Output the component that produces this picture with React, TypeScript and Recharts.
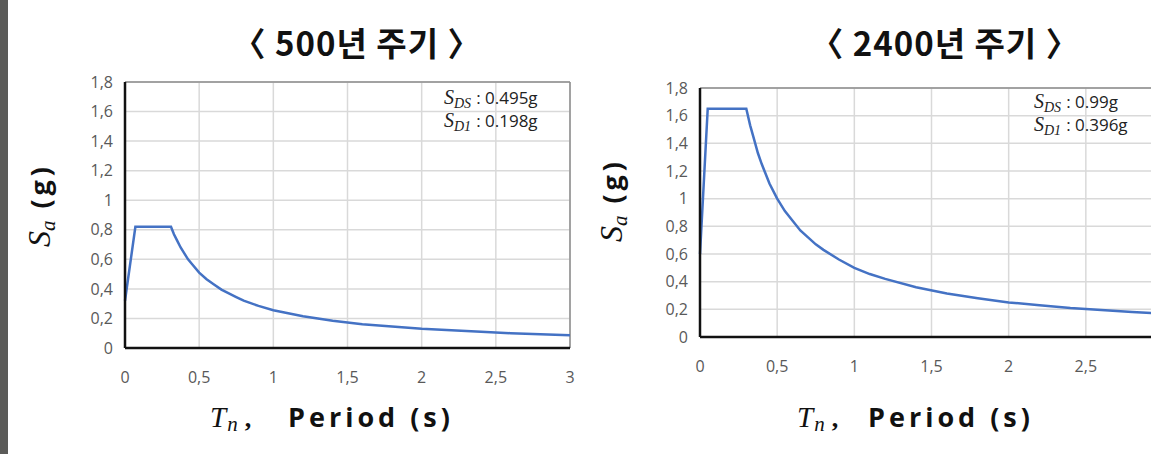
import { CartesianGrid, Line, LineChart, ReferenceLine, XAxis, YAxis } from 'recharts'

// Design response spectra (T in s, Sa in g)
const periodsLeft = [0, 0.07, 0.31, 0.33, 0.35, 0.375, 0.4, 0.425, 0.45, 0.5, 0.55, 0.6, 0.65, 0.7, 0.75, 0.8, 0.9, 1.0, 1.1, 1.2, 1.4, 1.6, 1.8, 2.0, 2.2, 2.4, 2.6, 2.8, 3.0]
const saLeft = [0.32, 0.82, 0.82, 0.77, 0.73, 0.68, 0.64, 0.6, 0.57, 0.51, 0.465, 0.43, 0.395, 0.37, 0.345, 0.32, 0.285, 0.255, 0.235, 0.215, 0.185, 0.16, 0.145, 0.13, 0.12, 0.11, 0.1, 0.093, 0.086]

const periodsRight = [0, 0.05, 0.3, 0.325, 0.35, 0.375, 0.4, 0.425, 0.45, 0.5, 0.55, 0.6, 0.65, 0.7, 0.75, 0.8, 0.9, 1.0, 1.1, 1.2, 1.4, 1.6, 1.8, 2.0, 2.2, 2.4, 2.6, 2.8, 3.0]
const saRight = [0.6, 1.65, 1.65, 1.53, 1.43, 1.33, 1.25, 1.18, 1.11, 1.0, 0.91, 0.84, 0.77, 0.72, 0.67, 0.63, 0.56, 0.5, 0.455, 0.42, 0.36, 0.315, 0.28, 0.25, 0.23, 0.21, 0.195, 0.18, 0.168]

const xTicks = [0, 0.5, 1, 1.5, 2, 2.5, 3]
const xTicksCut = [0, 0.5, 1, 1.5, 2, 2.5] // right panel: "3" falls outside the picture
const yTicks = [0, 0.2, 0.4, 0.6, 0.8, 1, 1.2, 1.4, 1.6, 1.8]

const titles = ['〈 500년 주기 〉', '〈 2400년 주기 〉']
const sdsValues = ['0.495g', '0.99g']
const sd1Values = ['0.198g', '0.396g']

const fmt = (v: number) => String(Math.round(v * 10) / 10).replace('.', ',')

const blue = '#4472c4'
const tickStyle = { fill: '#595959', fontSize: 16, fontFamily: 'Open Sans' }

type PanelProps = {
  left: number
  width: number
  periods: number[]
  sa: number[]
  ticks: number[]
  margin: { top: number; right: number; bottom: number; left: number }
  title: string
  sds: string
  sd1: string
  // overlay text positions, relative to the panel
  titleX: number
  yLabelX: number
  yLabelY: number
  tX: number
  periodX: number
  noteX: number
  noteY: number
}

function Panel(p: PanelProps) {
  const data = p.periods.map((t, i) => ({ t, sa: p.sa[i] }))
  const serif = 'Liberation Serif'
  return (
    <div style={{ position: 'absolute', left: p.left, top: 0, width: p.width, height: 454 }}>
      <LineChart width={p.width} height={454} data={data} margin={p.margin}>
        <CartesianGrid stroke="#d9d9d9" strokeWidth={1.5} />
        <XAxis
          type="number"
          dataKey="t"
          domain={[0, 3]}
          ticks={p.ticks}
          interval={0}
          tickFormatter={fmt}
          tick={tickStyle}
          tickLine={false}
          tickSize={0}
          tickMargin={24}
          height={30}
          axisLine={{ stroke: '#111', strokeWidth: 2.5 }}
        />
        <YAxis
          type="number"
          domain={[0, 1.8]}
          ticks={yTicks}
          interval={0}
          tickFormatter={fmt}
          tick={tickStyle}
          tickLine={false}
          tickSize={0}
          tickMargin={12}
          width={40}
          axisLine={{ stroke: '#111', strokeWidth: 2.5 }}
        />
        <ReferenceLine y={1.8} stroke="#8c8c8c" strokeWidth={1.5} />
        <ReferenceLine x={3} stroke="#8c8c8c" strokeWidth={1.5} />
        <Line
          type="linear"
          dataKey="sa"
          stroke={blue}
          strokeWidth={2.5}
          dot={false}
          isAnimationActive={false}
        />
      </LineChart>
      <svg
        width={p.width}
        height={454}
        style={{ position: 'absolute', left: 0, top: 0, pointerEvents: 'none' }}
      >
        <text
          x={p.titleX}
          y={56}
          textAnchor="middle"
          fontFamily="Noto Sans CJK KR"
          fontWeight={700}
          fontSize={33}
          letterSpacing={1}
          fill="#111"
        >
          {p.title}
        </text>
        <text
          transform={`translate(${p.yLabelX},${p.yLabelY}) rotate(-90)`}
          textAnchor="middle"
          fill="#111"
        >
          <tspan fontFamily={serif} fontStyle="italic" fontSize={32}>S</tspan>
          <tspan fontFamily={serif} fontStyle="italic" fontSize={21} dy={5}>a</tspan>
          <tspan fontFamily="Open Sans" fontWeight={700} fontSize={27} dy={-5} dx={12} letterSpacing={4}>(g)</tspan>
        </text>
        <text x={p.tX} y={427} fill="#111">
          <tspan fontFamily={serif} fontStyle="italic" fontSize={29}>T</tspan>
          <tspan fontFamily={serif} fontStyle="italic" fontSize={21} dy={4} dx={1}>n</tspan>
          <tspan fontFamily={serif} fontWeight={700} fontSize={26} dy={-4} dx={7}>,</tspan>
        </text>
        <text
          x={p.periodX}
          y={427}
          fontFamily="Open Sans"
          fontWeight={700}
          fontSize={27}
          letterSpacing={4}
          fill="#111"
        >
          Period (s)
        </text>
        {[
          ['DS', p.sds],
          ['D1', p.sd1],
        ].map(([sub, val], i) => (
          <text key={sub} x={p.noteX} y={p.noteY + i * 23} fill="#222">
            <tspan fontFamily={serif} fontStyle="italic" fontSize={20}>S</tspan>
            <tspan fontFamily={serif} fontStyle="italic" fontSize={14} dy={4}>{sub}</tspan>
            <tspan fontFamily="Open Sans" fontSize={17} dy={-4} dx={5}>{`:\u00a0${val}`}</tspan>
          </text>
        ))}
      </svg>
    </div>
  )
}

export default function App() {
  return (
    <div
      style={{
        position: 'absolute',
        left: 0,
        top: 0,
        width: 1151,
        height: 454,
        overflow: 'hidden',
        background: '#fff',
      }}
    >
      <div style={{ position: 'absolute', left: 0, top: 0, width: 8, height: 454, background: '#5b5b59' }} />
      <Panel
        left={0}
        width={600}
        periods={periodsLeft}
        sa={saLeft}
        ticks={xTicks}
        margin={{ top: 82, right: 30, bottom: 76, left: 85 }}
        title={titles[0]}
        sds={sdsValues[0]}
        sd1={sd1Values[0]}
        titleX={357}
        yLabelX={50}
        yLabelY={205}
        tX={210}
        periodX={288}
        noteX={444}
        noteY={104}
      />
      <Panel
        left={580}
        width={620}
        periods={periodsRight}
        sa={saRight}
        ticks={xTicksCut}
        margin={{ top: 88, right: 37, bottom: 87, left: 80 }}
        title={titles[1]}
        sds={sdsValues[1]}
        sd1={sd1Values[1]}
        titleX={365}
        yLabelX={42}
        yLabelY={200}
        tX={217}
        periodX={288}
        noteX={454}
        noteY={108}
      />
    </div>
  )
}
